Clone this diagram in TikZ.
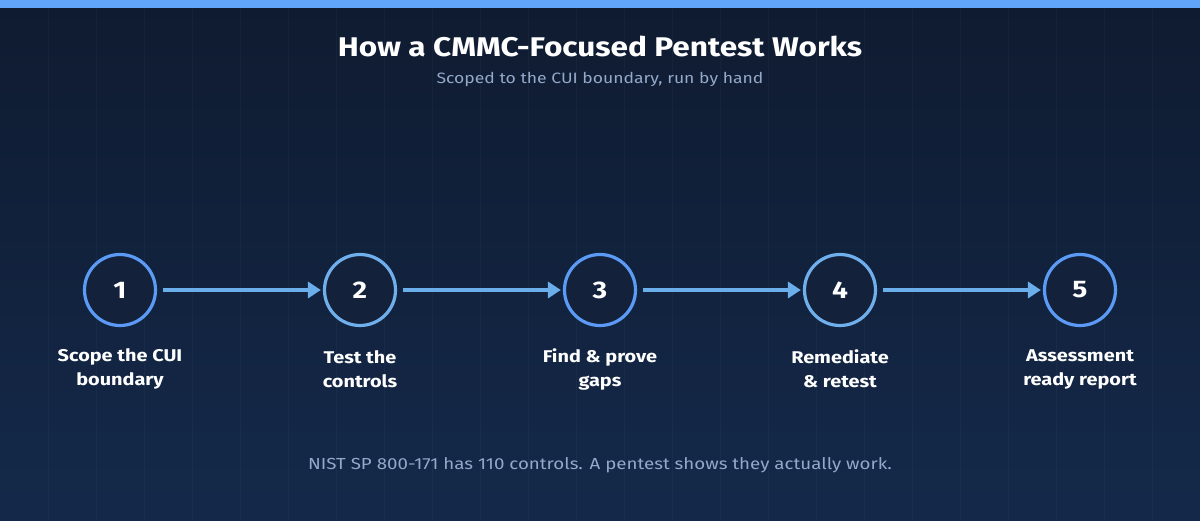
\documentclass[tikz,border=0pt]{standalone}
\usepackage{fontspec}
\setmainfont{Fira Sans}[FakeStretch=1.17]
\usetikzlibrary{arrows.meta}
\definecolor{bgtop}{HTML}{0F1B30}
\definecolor{bgbot}{HTML}{14294A}
\definecolor{topbar}{HTML}{60A5FA}
\definecolor{ringa}{HTML}{5B9BF5}
\definecolor{ringb}{HTML}{6FB0EC}
\definecolor{arrowc}{HTML}{6AAEEA}
\definecolor{subc}{HTML}{94A9C9}
\definecolor{nodefill}{HTML}{13213B}
\definecolor{gridc}{HTML}{8FA8D0}
\tikzset{
  stepcircle/.style={circle, draw=ringa, line width=3.2pt, fill=nodefill, minimum size=71pt, inner sep=0pt, text=white, font=\fontsize{24}{28}\selectfont\bfseries},
  steplabel/.style={align=center, text=white, font=\fontsize{17}{24}\selectfont\bfseries},
  flowarrow/.style={draw=arrowc, line width=3.5pt, -{Triangle[length=13pt,width=16pt]}}
}
\begin{document}
\begin{tikzpicture}[x=1pt,y=-1pt]
\useasboundingbox (0,0) rectangle (1200,520);
\shade[top color=bgtop, bottom color=bgbot] (0,0) rectangle (1200,520);
\foreach \gx in {48,96,...,1152} {\draw[gridc, draw opacity=0.05, line width=0.8pt] (\gx,8) -- (\gx,520);}
\fill[topbar] (0,0) rectangle (1200,8);
\node[text=white, font=\fontsize{27}{31}\selectfont\bfseries] (title) at (600,46) {How a CMMC-Focused Pentest Works};
\node[text=subc, font=\fontsize{15}{18}\selectfont] (sub) at (600,79) {Scoped to the CUI boundary, run by hand};
\node[stepcircle] (s1) at (120,290) {1};
\node[stepcircle, draw=ringb] (s2) at (360,290) {2};
\node[stepcircle] (s3) at (600,290) {3};
\node[stepcircle, draw=ringb] (s4) at (840,290) {4};
\node[stepcircle] (s5) at (1080,290) {5};
\foreach \a/\b in {s1/s2,s2/s3,s3/s4,s4/s5} {\draw[flowarrow] ([xshift=6pt]\a.east) -- ([xshift=-2pt]\b.west);}
\node[steplabel] (l1) at (120,369) {Scope the CUI\\boundary};
\node[steplabel] (l2) at (360,369) {Test the\\controls};
\node[steplabel] (l3) at (600,369) {Find \& prove\\gaps};
\node[steplabel] (l4) at (840,369) {Remediate\\\& retest};
\node[steplabel] (l5) at (1080,369) {Assessment\\ready report};
\node[text=subc, font=\fontsize{16}{20}\selectfont] (foot) at (600,465) {NIST SP 800-171 has 110 controls. A pentest shows they actually work.};
\end{tikzpicture}
\end{document}
